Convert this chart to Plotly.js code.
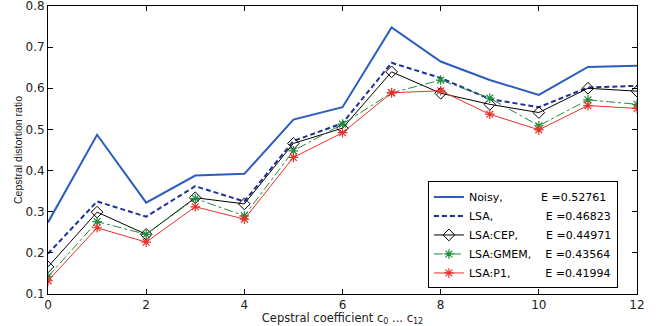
<!DOCTYPE html>
<html>
<head>
<meta charset="utf-8">
<script src="https://cdn.plot.ly/plotly-3.0.1.min.js"></script>
<style>html,body{margin:0;padding:0;background:#fff;}</style>
</head>
<body>
<div id="chart" style="width:658px;height:326px;"></div>
<script>
var coeffs = [0,1,2,3,4,5,6,7,8,9,10,11,12];
var noisy = [0.274,0.487,0.322,0.388,0.392,0.524,0.554,0.748,0.665,0.620,0.584,0.652,0.655];
var lsa   = [0.198,0.325,0.288,0.362,0.325,0.472,0.515,0.662,0.625,0.574,0.554,0.602,0.606];
var cep   = [0.166,0.299,0.245,0.334,0.319,0.466,0.503,0.640,0.588,0.561,0.541,0.600,0.593];
var gmem  = [0.142,0.276,0.245,0.332,0.290,0.448,0.513,0.589,0.620,0.576,0.509,0.572,0.561];
var p1    = [0.132,0.261,0.226,0.312,0.282,0.432,0.492,0.589,0.594,0.537,0.499,0.558,0.551];
var names = ["Noisy,","LSA,","LSA:CEP,","LSA:GMEM,","LSA:P1,"];
var energies = ["0.52761","0.46823","0.44971","0.43564","0.41994"];
var pads = [11,15,8,4,10];
var yTicks = [0.1,0.2,0.3,0.4,0.5,0.6,0.7,0.8];
var xTicks = [0,2,4,6,8,10,12];

function label(i){
  return names[i] + "\u00A0".repeat(pads[i]) + "E\u00A0=" + energies[i];
}

var traces = [
  {x:coeffs, y:noisy, name:label(0), mode:'lines', line:{color:'#2c5cc0', width:2}},
  {x:coeffs, y:lsa, name:label(1), mode:'lines', line:{color:'#1f2f9c', width:2, dash:'5px,3px'}},
  {x:coeffs, y:cep, name:label(2), mode:'lines+markers', line:{color:'#000000', width:1},
   marker:{symbol:'diamond-open', size:9, color:'#000000', line:{width:1, color:'#000000'}}},
  {x:coeffs, y:gmem, name:label(3), mode:'lines+markers', line:{color:'#1e8c3c', width:1, dash:'dashdot'},
   marker:{symbol:'asterisk-open', size:8, color:'#1e8c3c', line:{width:1.2, color:'#1e8c3c'}}},
  {x:coeffs, y:p1, name:label(4), mode:'lines+markers', line:{color:'#e8302a', width:1},
   marker:{symbol:'asterisk-open', size:8, color:'#e8302a', line:{width:1.2, color:'#e8302a'}}}
];

var axisFont = {family:'DejaVu Sans', size:12, color:'#222'};
var layout = {
  width:658, height:326,
  margin:{l:48, r:21, t:6, b:32},
  paper_bgcolor:'#fff', plot_bgcolor:'#fff',
  showlegend:true,
  xaxis:{
    range:[0,12], tickvals:xTicks, ticktext:xTicks.map(String),
    ticks:'inside', ticklen:5, tickcolor:'#000', showline:true, linecolor:'#000', linewidth:1,
    mirror:'ticks', showgrid:false, zeroline:false, tickfont:axisFont, ticklabeloverflow:'allow',
    title:{text:'Cepstral coefficient c<sub>0</sub> ... c<sub>12</sub>', font:{family:'DejaVu Sans', size:11.5, color:'#222'}, standoff:2}
  },
  yaxis:{
    range:[0.1,0.8], tickvals:yTicks, ticktext:yTicks.map(function(v){return v.toFixed(1);}),
    ticks:'inside', ticklen:5, tickcolor:'#000', showline:true, linecolor:'#000', linewidth:1,
    mirror:'ticks', showgrid:false, zeroline:false, tickfont:axisFont, ticklabeloverflow:'allow',
    title:{text:'Cepstral distortion ratio', font:{family:'Liberation Sans', size:10.5, color:'#222'}, standoff:0}
  },
  legend:{
    x:0.645, xanchor:'left', y:0.205, yanchor:'middle',
    bgcolor:'#fff', bordercolor:'#000', borderwidth:1,
    font:{family:'DejaVu Sans', size:11, color:'#000'},
    tracegroupgap:0
  }
};

Plotly.newPlot('chart', traces, layout, {displayModeBar:false, staticPlot:true});
</script>
</body>
</html>
